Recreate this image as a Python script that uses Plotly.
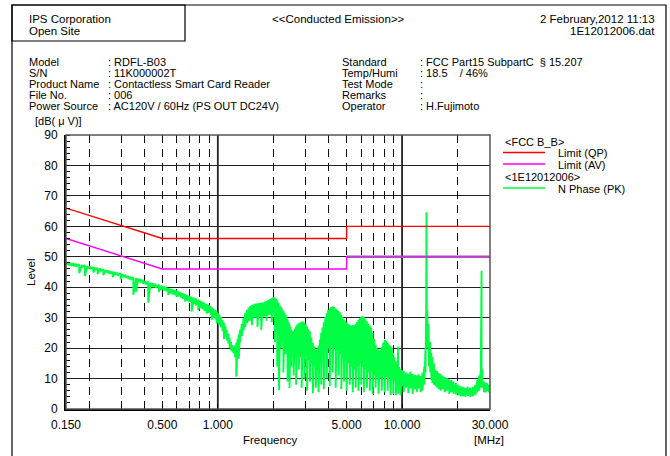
import plotly.graph_objects as go

# ---------------- data ----------------
# limit lines (FCC B_B)
lim_freq = [0.15, 0.5, 5.0, 5.0, 30.0]
lim_qp = [66, 56, 56, 60, 60]
lim_av = [56, 46, 46, 50, 50]

# N Phase (PK) sweep: frequency (MHz), upper value, lower value (dBuV)
pk_freq = [
    0.150, 0.155, 0.160, 0.165, 0.170, 0.177, 0.183, 0.190, 0.196, 0.203,
    0.211, 0.217, 0.223, 0.230, 0.239, 0.246, 0.254, 0.261, 0.269, 0.277,
    0.286, 0.297, 0.306, 0.316, 0.327, 0.337, 0.348, 0.360, 0.370, 0.380,
    0.392, 0.405, 0.419, 0.432, 0.446, 0.460, 0.479, 0.495,
    0.510, 0.524, 0.538, 0.553, 0.568, 0.583, 0.598, 0.614, 0.630, 0.647,
    0.664, 0.682, 0.700, 0.721, 0.740, 0.760, 0.783, 0.803, 0.825, 0.847,
    0.870, 0.893, 0.917, 0.926, 0.950, 0.975, 0.986, 1.000,
    1.02, 1.04, 1.06, 1.08, 1.10, 1.12, 1.14, 1.16, 1.18, 1.20,
    1.22, 1.24, 1.26, 1.28, 1.30, 1.32, 1.35, 1.38, 1.41, 1.44,
    1.47, 1.50, 1.53, 1.56, 1.60, 1.64, 1.68, 1.72, 1.76, 1.80,
    1.84, 1.88, 1.92, 1.96, 2.00,
    2.04, 2.07, 2.10, 2.13, 2.15, 2.18, 2.21, 2.24, 2.27, 2.30,
    2.33, 2.36, 2.39, 2.42, 2.45, 2.48, 2.51, 2.54, 2.58, 2.62,
    2.66, 2.70, 2.75, 2.80, 2.85, 2.90, 2.95, 3.00, 3.05, 3.10,
    3.16, 3.22, 3.28, 3.34, 3.40, 3.46, 3.52, 3.58, 3.64, 3.70,
    3.76, 3.83, 3.90, 3.97, 4.05, 4.12, 4.20, 4.28, 4.36, 4.44,
    4.52, 4.60, 4.68, 4.76, 4.84, 4.92, 5.00,
    5.10, 5.20, 5.30, 5.40, 5.50, 5.60, 5.70, 5.80, 5.90, 6.00,
    6.10, 6.20, 6.32, 6.44, 6.56, 6.68, 6.80, 6.92, 7.05, 7.18,
    7.30, 7.45, 7.60, 7.75, 7.90, 8.05, 8.20, 8.35, 8.50, 8.65,
    8.80, 8.95, 9.10, 9.25, 9.40, 9.53, 9.65, 9.80, 9.95,
    10.2, 10.5, 10.8, 11.1, 11.4, 11.7, 12.0, 12.3, 12.6, 12.9,
    13.2, 13.4, 13.50, 13.56, 13.62, 13.7, 13.8, 13.9, 14.0, 14.2,
    14.4, 14.6, 14.9, 15.2, 15.5, 15.8, 16.2, 16.6, 17.0, 17.5,
    18.0, 18.5, 19.0, 19.6, 20.2, 20.8, 21.4, 22.0, 22.7, 23.4,
    24.2, 25.0, 25.6, 26.2, 26.7, 27.0, 27.3, 27.8, 28.4, 29.0,
    29.6, 30.0,
]
pk_hi = [
    48.2, 48.1, 47.9, 47.9, 47.7, 47.5, 47.4, 47.2, 47.0, 46.8,
    46.6, 46.5, 46.3, 46.2, 45.9, 45.7, 45.5, 45.3, 45.1, 45.0,
    44.8, 44.6, 44.3, 44.0, 43.7, 43.4, 43.3, 43.0, 42.9, 42.7,
    42.4, 42.1, 41.8, 41.5, 41.3, 41.1, 40.8, 40.6,
    40.3, 40.0, 39.7, 39.5, 39.3, 39.1, 38.9, 38.6, 38.3, 38.0,
    37.7, 37.4, 37.2, 36.9, 36.6, 36.3, 35.9, 35.6, 35.2, 34.9,
    34.5, 34.2, 33.7, 33.5, 33.0, 32.4, 32.0, 31.5,
    31.0, 30.2, 29.2, 28.3, 27.2, 26.0, 24.8, 23.4, 22.0, 21.0,
    20.4, 20.8, 21.8, 23.0, 24.5, 26.0, 28.0, 29.8, 31.5, 32.6,
    33.3, 33.8, 34.1, 34.4, 34.6, 34.7, 34.8, 34.9, 35.0, 35.3,
    35.5, 35.8, 36.1, 36.5, 36.8,
    36.6, 36.2, 35.7, 35.0, 34.6, 34.0, 33.4, 32.8, 32.2, 31.6,
    31.0, 30.4, 29.6, 28.6, 27.8, 26.9, 26.0, 25.4, 25.6, 26.4,
    27.2, 27.8, 28.2, 28.4, 28.7, 28.7, 28.4, 27.8, 27.0, 26.2,
    25.5, 23.5, 21.8, 20.6, 19.6, 19.4, 20.8, 22.8, 25.0, 26.8,
    28.5, 30.2, 31.5, 32.5, 33.1, 33.5, 33.7, 33.5, 33.0, 32.6,
    32.2, 31.8, 31.0, 30.2, 29.4, 28.8, 28.4,
    27.9, 27.6, 27.4, 27.5, 27.6, 28.0, 28.6, 29.3, 29.9, 30.3,
    30.5, 30.2, 29.6, 28.8, 28.0, 27.4, 26.8, 25.0, 23.0, 21.2,
    20.2, 19.6, 19.4, 20.4, 21.8, 22.7, 22.4, 21.8, 21.2, 20.8,
    20.2, 18.5, 17.0, 15.6, 14.6, 20.5, 13.8, 13.2, 12.8,
    12.5, 12.0, 11.6, 12.2, 11.5, 11.2, 11.0, 11.4, 10.8, 12.0,
    14.0, 20.0, 32.0, 64.6, 36.9, 32.5, 31.0, 28.0, 27.0, 22.0,
    18.5, 17.2, 15.0, 13.0, 12.5, 11.8, 11.5, 11.0, 10.5, 10.2,
    9.8, 9.5, 9.0, 8.5, 8.0, 7.5, 7.2, 7.0, 7.3, 7.0,
    7.2, 8.0, 9.5, 11.0, 12.5, 45.4, 13.0, 9.0, 8.5, 8.5,
    8.0, 8.0,
]
pk_lo = [
    47.4, 47.2, 47.0, 46.9, 46.8, 44.6, 46.6, 43.7, 46.2, 46.0,
    44.8, 45.7, 44.3, 45.3, 44.0, 44.9, 44.6, 44.4, 43.3, 44.1,
    43.9, 42.6, 43.4, 43.1, 42.7, 42.4, 37.5, 38.5, 41.8, 41.6,
    41.2, 40.9, 34.9, 40.3, 40.0, 39.8, 38.5, 39.2,
    38.9, 38.7, 37.5, 38.0, 37.7, 37.4, 36.9, 37.0, 36.6, 36.2,
    35.3, 35.6, 35.1, 32.0, 34.5, 34.0, 32.5, 33.2, 32.8, 32.2,
    31.4, 31.6, 30.9, 29.2, 30.0, 29.4, 28.1, 28.5,
    27.5, 26.8, 25.5, 23.0, 23.8, 22.5, 21.5, 20.0, 19.2, 18.6,
    18.2, 17.0, 10.6, 19.5, 16.5, 22.0, 24.0, 25.8, 27.0, 28.2,
    28.8, 29.0, 27.5, 29.8, 30.0, 27.0, 30.4, 26.0, 30.3, 30.5,
    29.0, 30.8, 31.0, 28.5, 31.5,
    22.0, 30.0, 14.0, 25.0, 6.2, 28.0, 20.0, 27.0, 12.0, 24.0,
    18.0, 22.0, 9.0, 21.0, 6.9, 19.0, 14.0, 20.0, 11.0, 18.0,
    8.0, 19.0, 13.0, 17.0, 7.0, 18.0, 10.0, 17.5, 6.0, 16.0,
    9.0, 15.0, 5.2, 14.0, 7.0, 13.0, 5.5, 15.0, 8.0, 17.0,
    6.5, 19.0, 10.0, 20.0, 7.5, 21.0, 12.0, 20.0, 7.0, 19.0,
    11.0, 18.0, 6.5, 17.0, 9.0, 16.0, 6.0,
    15.0, 8.0, 14.0, 5.5, 13.0, 7.0, 14.0, 6.0, 15.0, 8.0,
    14.0, 5.5, 13.0, 7.0, 12.0, 6.0, 12.5, 5.0, 11.0, 7.0,
    10.5, 5.0, 10.0, 6.0, 11.0, 5.5, 10.5, 6.0, 10.0, 4.5,
    9.5, 5.0, 9.0, 4.5, 8.5, 5.0, 8.0, 4.5, 7.5,
    5.5, 7.0, 5.2, 6.8, 5.0, 6.5, 5.5, 6.8, 5.5, 6.0,
    8.0, 12.0, 20.0, 30.0, 25.0, 22.0, 20.0, 16.0, 14.0, 12.0,
    9.5, 8.5, 8.0, 7.5, 7.0, 6.5, 6.0, 6.5, 5.5, 6.0,
    5.0, 5.5, 5.0, 4.8, 4.5, 4.2, 4.2, 4.0, 4.3, 4.0,
    4.2, 4.5, 5.5, 6.0, 7.0, 10.0, 7.0, 5.5, 5.5, 6.0,
    5.5, 0.0,
]

# axis ticks / grid
x_tickvals = [0.15, 0.5, 1, 5, 10, 30]
x_ticktext = ["0.150", "0.500", "1.000", "5.000", "10.000", "30.000"]
x_dash_grid = [0.2, 0.3, 0.4, 0.5, 0.6, 0.7, 0.8, 0.9, 2, 3, 4, 5, 6, 7, 8, 9, 20]
x_solid_grid = [1, 10]
y_tickvals = [0, 10, 20, 30, 40, 50, 60, 70, 80, 90]

# ---------------- figure ----------------
W, H = 670, 456
L, R, T, B = 66, 490, 135, 409
FONT = "Arial, 'Liberation Sans', sans-serif"


def px(x):
    return (x - L) / (R - L)


def py(y):
    return (B - y) / (B - T)


GREEN = "#00ff44"
RED = "#ff0000"
MAG = "#ff00ff"
PURP = "#b845c8"

zx, zy = [], []
for f, h, l in zip(pk_freq, pk_hi, pk_lo):
    zx += [f, f]
    zy += [h, l]

fig = go.Figure()
fig.add_trace(go.Scatter(x=zx, y=zy, mode="lines", line=dict(color=GREEN, width=1.9),
                         name="N Phase (PK)", showlegend=False))
fig.add_trace(go.Scatter(x=lim_freq, y=lim_qp, mode="lines", line=dict(color=RED, width=1.4),
                         name="Limit (QP)", showlegend=False))
fig.add_trace(go.Scatter(x=lim_freq, y=lim_av, mode="lines", line=dict(color=MAG, width=1.4),
                         name="Limit (AV)", showlegend=False))
fig.add_trace(go.Scatter(x=lim_freq[3:], y=lim_av[3:], mode="lines", line=dict(color=PURP, width=2.4),
                         showlegend=False, hoverinfo="skip"))

shapes = []
for g in x_solid_grid:
    shapes.append(dict(type="line", xref="x", yref="paper", x0=g, x1=g, y0=0, y1=1,
                       line=dict(color="#222222", width=1.8), layer="below"))
# plot border (top/right)
shapes.append(dict(type="rect", xref="paper", yref="paper", x0=0, x1=1, y0=0, y1=1,
                   line=dict(color="#555555", width=1.5), layer="above"))
# outer frame and header box
shapes.append(dict(type="rect", xref="paper", yref="paper", x0=px(12), x1=px(666), y0=py(470), y1=py(5),
                   line=dict(color="#000000", width=1.2)))
shapes.append(dict(type="rect", xref="paper", yref="paper", x0=px(12), x1=px(185), y0=py(41), y1=py(5),
                   line=dict(color="#000000", width=1.2)))
# legend samples
for yy, col in [(152.5, RED), (164, MAG), (188, GREEN)]:
    shapes.append(dict(type="line", xref="paper", yref="paper", x0=px(503), x1=px(545), y0=py(yy), y1=py(yy),
                       line=dict(color=col, width=1.4)))

ann = []


def text(x, y, s, anchor="left", size=11.5, **kw):
    ann.append(dict(x=px(x), y=py(y), xref="paper", yref="paper", text=s, showarrow=False,
                    xanchor=anchor, yanchor="middle", font=dict(size=size, color="black", family=FONT), **kw))


text(27, 19, "IPS Corporation")
text(27, 31, "Open Site")
text(338, 19, "&lt;&lt;Conducted Emission&gt;&gt;", anchor="center")
text(657, 19, "2 February,2012 11:13", anchor="right")
text(657, 31, "1E12012006.dat", anchor="right")

left_keys = ["Model", "S/N", "Product Name", "File No.", "Power Source"]
left_vals = [": RDFL-B03", ": 11K000002T", ": Contactless Smart Card Reader", ": 006",
             ": AC120V / 60Hz (PS OUT DC24V)"]
right_keys = ["Standard", "Temp/Humi", "Test Mode", "Remarks", "Operator"]
right_vals = [": FCC Part15 SubpartC  § 15.207", ": 18.5    / 46%", ":", ":", ": H.Fujimoto"]
for i in range(5):
    y = 62 + 11 * i
    text(27, y, left_keys[i], size=11)
    text(106, y, left_vals[i], size=11)
    text(340, y, right_keys[i], size=11)
    text(418, y, right_vals[i], size=11)

text(33, 121, "[dB( μ V)]", size=11)
text(31, 272, "Level", anchor="center", size=11.5, textangle=-90)
text(270, 440, "Frequency", anchor="center", size=11.5)
text(489, 440, "[MHz]", anchor="center", size=11.5)

text(503, 142, "&lt;FCC B_B&gt;", size=11)
text(556, 153, "Limit (QP)", size=11)
text(556, 164.5, "Limit (AV)", size=11)
text(503, 176.5, "&lt;1E12012006&gt;", size=11)
text(556, 189, "N Phase (PK)", size=11)

fig.update_layout(
    width=W, height=H,
    margin=dict(l=L, r=W - R, t=T, b=H - B, pad=0),
    paper_bgcolor="white", plot_bgcolor="white",
    showlegend=False,
    font=dict(family=FONT, size=12, color="black"),
    shapes=shapes, annotations=ann,
    xaxis=dict(type="log", range=[-0.82390874, 1.47712125], tickvals=x_tickvals, ticktext=x_ticktext,
               ticks="inside", ticklen=5, tickcolor="black", tickwidth=1,
               showgrid=False, zeroline=False, showline=True, linecolor="black", linewidth=2,
               tickfont=dict(size=12), ticklabelstandoff=4, automargin=False,
               minor=dict(tickmode="array", tickvals=x_dash_grid, ticks="inside", ticklen=5,
                          tickcolor="black", showgrid=True, gridcolor="#111111", gridwidth=1,
                          griddash="8px,6px")),
    yaxis=dict(range=[0, 90], tickvals=y_tickvals, ticks="", showgrid=True, gridcolor="#222222",
               gridwidth=1, zeroline=False, showline=True, linecolor="black", linewidth=2,
               tickfont=dict(size=12), ticklabelstandoff=4, automargin=False,
               minor=dict(dtick=2, ticks="inside", ticklen=4, tickcolor="black", showgrid=False)),
)

fig.write_html("out.html")
